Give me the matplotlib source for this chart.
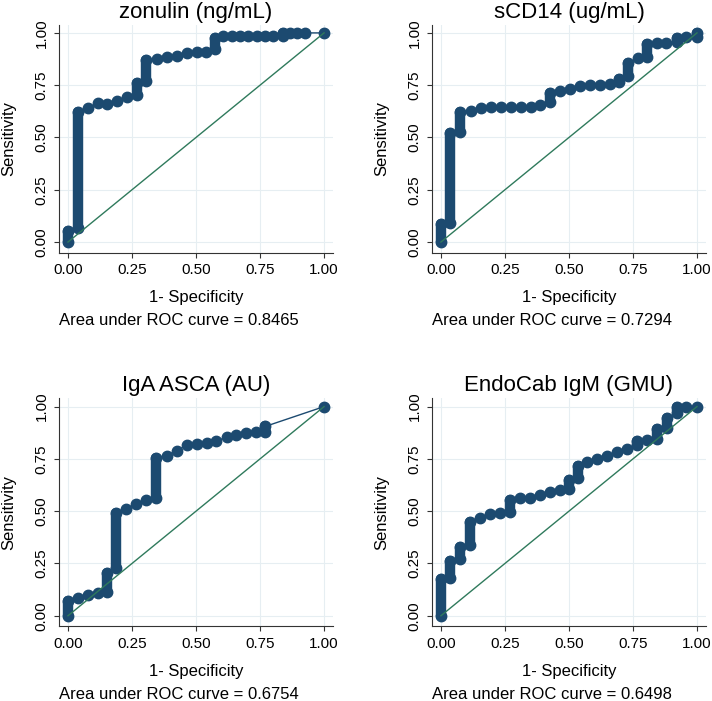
import numpy as np
import matplotlib
matplotlib.use("Agg")
from matplotlib import pyplot as plt

plt.rcParams['font.family'] = ['Liberation Sans', 'DejaVu Sans']

# ROC points (1 - specificity, sensitivity)
# consecutive points with the same x are the vertical stacks of markers
zon_fpr = [0, 0, 0.038, 0.038, 0.077, 0.116, 0.153, 0.192, 0.230, 0.268, 0.268, 0.306, 0.306,
           0.346, 0.385, 0.424, 0.463, 0.502, 0.540, 0.576, 0.576, 0.607, 0.639, 0.672, 0.704,
           0.737, 0.770, 0.802, 0.841, 0.841, 0.867, 0.893, 0.926, 1.0]
zon_tpr = [0, 0.055, 0.065, 0.62, 0.64, 0.664, 0.66, 0.672, 0.692, 0.705, 0.76, 0.77, 0.87,
           0.874, 0.884, 0.89, 0.906, 0.91, 0.91, 0.925, 0.975, 0.985, 0.985, 0.985, 0.985,
           0.985, 0.985, 0.985, 0.985, 1.0, 1.0, 1.0, 1.0, 1.0]

cd14_fpr = [0, 0, 0.035, 0.035, 0.074, 0.074, 0.117, 0.156, 0.195, 0.234, 0.273, 0.312, 0.352,
            0.387, 0.426, 0.426, 0.465, 0.504, 0.543, 0.582, 0.621, 0.66, 0.695, 0.695, 0.732,
            0.732, 0.771, 0.806, 0.806, 0.842, 0.88, 0.92, 0.92, 0.956, 1.0, 1.0]
cd14_tpr = [0, 0.085, 0.09, 0.52, 0.525, 0.62, 0.628, 0.64, 0.645, 0.645, 0.645, 0.645, 0.645,
            0.655, 0.67, 0.715, 0.72, 0.73, 0.745, 0.75, 0.75, 0.755, 0.765, 0.78, 0.795,
            0.857, 0.879, 0.885, 0.945, 0.95, 0.95, 0.955, 0.975, 0.982, 0.98, 1.0]

asca_fpr = [0, 0, 0.039, 0.077, 0.116, 0.154, 0.154, 0.189, 0.189, 0.228, 0.267, 0.306, 0.345,
            0.345, 0.386, 0.425, 0.464, 0.503, 0.542, 0.58, 0.62, 0.658, 0.695, 0.734, 0.77,
            0.77, 1.0]
asca_tpr = [0, 0.07, 0.083, 0.1, 0.11, 0.115, 0.205, 0.23, 0.49, 0.512, 0.536, 0.552, 0.565,
            0.755, 0.766, 0.79, 0.815, 0.82, 0.825, 0.835, 0.855, 0.862, 0.872, 0.877, 0.88,
            0.905, 1.0]

endo_fpr = [0, 0, 0.035, 0.035, 0.074, 0.074, 0.113, 0.113, 0.152, 0.191, 0.23, 0.27, 0.27,
            0.309, 0.348, 0.387, 0.426, 0.465, 0.5, 0.5, 0.535, 0.535, 0.572, 0.61, 0.648,
            0.688, 0.726, 0.767, 0.767, 0.806, 0.842, 0.842, 0.884, 0.884, 0.92, 0.92, 0.958, 1.0]
endo_tpr = [0, 0.175, 0.18, 0.26, 0.27, 0.33, 0.34, 0.45, 0.469, 0.488, 0.491, 0.495, 0.555,
            0.565, 0.565, 0.576, 0.591, 0.6, 0.605, 0.65, 0.66, 0.715, 0.734, 0.75, 0.766,
            0.785, 0.798, 0.815, 0.835, 0.838, 0.845, 0.895, 0.9, 0.945, 0.97, 1.0, 1.0, 1.0]

titles = ["zonulin (ng/mL)", "sCD14 (ug/mL)", "IgA ASCA (AU)", "EndoCab IgM (GMU)"]
aucs = ["0.8465", "0.7294", "0.6754", "0.6498"]
curves = [(zon_fpr, zon_tpr), (cd14_fpr, cd14_tpr), (asca_fpr, asca_tpr), (endo_fpr, endo_tpr)]
ticks = [0, 0.25, 0.5, 0.75, 1.0]
tick_labels = ["0.00", "0.25", "0.50", "0.75", "1.00"]

navy = "#1c4a70"
green = "#2f7a5c"
grid_col = "#e6eef2"

fig = plt.figure(figsize=(7.12, 7.01), dpi=100)
positions = [[0.0829, 0.6398, 0.3848, 0.3252],
             [0.6067, 0.6398, 0.3848, 0.3252],
             [0.0829, 0.1067, 0.3848, 0.3252],
             [0.6067, 0.1067, 0.3848, 0.3252]]

for k in range(4):
    ax = fig.add_axes(positions[k])
    x, y = curves[k]
    ax.plot(x, y, color=navy, lw=1, marker='o', ms=7.5, mfc=navy, mec=navy, zorder=3)
    for i in range(len(x) - 1):
        if x[i] == x[i + 1]:
            ax.plot([x[i], x[i + 1]], [y[i], y[i + 1]], color=navy, lw=7.5,
                    solid_capstyle='round', zorder=3)
    ax.plot([0, 1], [0, 1], color=green, lw=1, zorder=4)

    ax.set_xlim(-0.035, 1.035)
    ax.set_ylim(-0.05, 1.04)
    ax.set_xticks(ticks)
    ax.set_xticklabels(tick_labels, fontsize=11)
    ax.set_yticks(ticks)
    ax.set_yticklabels(tick_labels, fontsize=11, rotation=90, va='center')
    ax.tick_params(length=3.5, width=0.8, color="#333333", pad=4)
    ax.grid(True, color=grid_col, lw=0.8, zorder=0)
    ax.set_axisbelow(True)
    for s in ["top", "right"]:
        ax.spines[s].set_visible(False)
    for s in ["left", "bottom"]:
        ax.spines[s].set_color("#333333")
        ax.spines[s].set_linewidth(0.8)

    ax.set_title(titles[k], fontsize=16, pad=5)
    ax.set_xlabel("1- Specificity", fontsize=12)
    ax.xaxis.set_label_coords(0.5, -0.165)
    ax.set_ylabel("Sensitivity", fontsize=12)
    ax.yaxis.set_label_coords(-0.155, 0.5)
    ax.text(0, -0.30, "Area under ROC curve = " + aucs[k], transform=ax.transAxes,
            ha='left', va='center', fontsize=12)

fig.savefig("out.png", dpi=100)
